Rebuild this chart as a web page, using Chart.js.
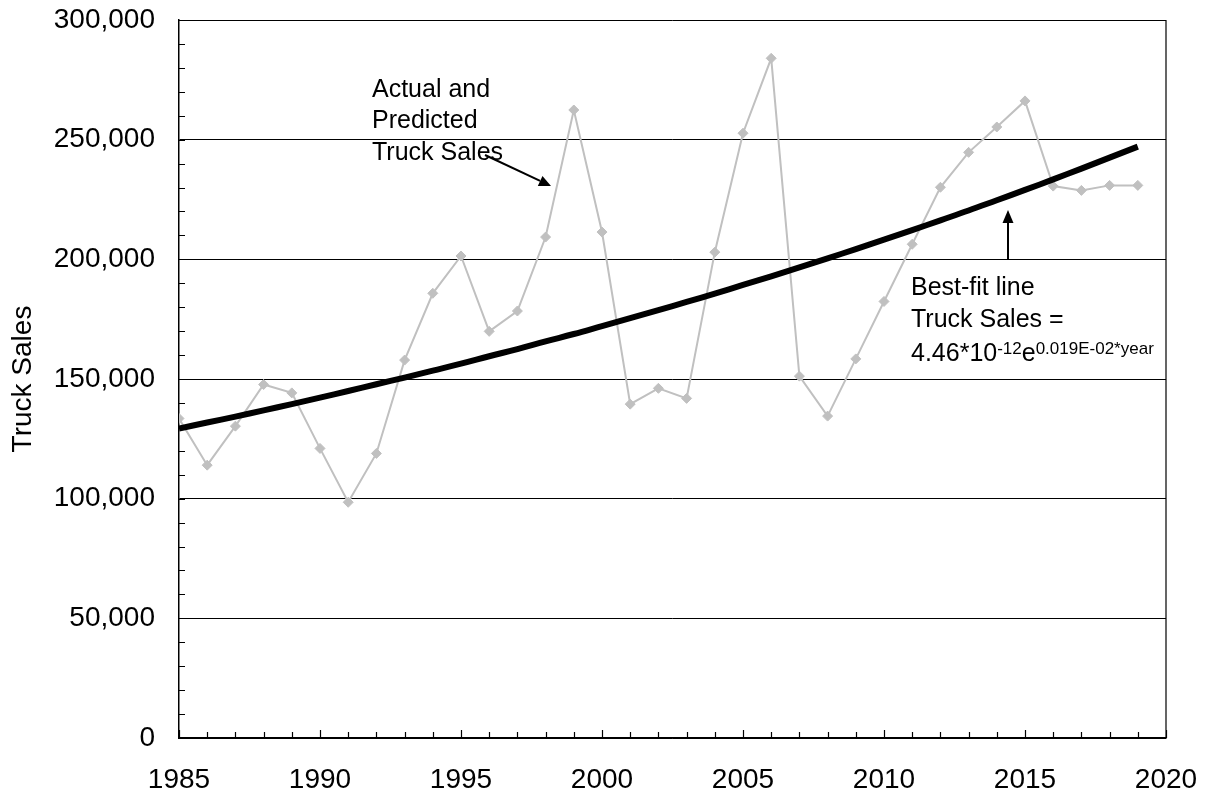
<!DOCTYPE html>
<html>
<head>
<meta charset="utf-8">
<script src="https://cdn.jsdelivr.net/npm/chart.js@4/dist/chart.umd.min.js"></script>
<style>
  html, body { margin: 0; padding: 0; background: #ffffff; }
  #wrap { width: 1206px; height: 796px; }
</style>
</head>
<body>
<div id="wrap"><canvas id="c" width="1206" height="796"></canvas></div>
<script>
// Yearly truck sales and the fitted exponential trend
const years = [1985, 1986, 1987, 1988, 1989, 1990, 1991, 1992, 1993, 1994,
               1995, 1996, 1997, 1998, 1999, 2000, 2001, 2002, 2003, 2004,
               2005, 2006, 2007, 2008, 2009, 2010, 2011, 2012, 2013, 2014,
               2015, 2016, 2017, 2018, 2019];

const actualSales = [133500, 114000, 130300, 147700, 144200, 121000, 98500, 118900, 157900, 185800,
                     201400, 169900, 178400, 209300, 262400, 211400, 139500, 146100, 141900, 203000,
                     252700, 284000, 151200, 134500, 158400, 182400, 206300, 230100, 244700, 255300,
                     266200, 230600, 228800, 230900, 230900];

const trendSales = [129300, 131800, 134300, 136900, 139500, 142200, 145000, 147800, 150600, 153500,
                    156400, 159500, 162500, 165700, 168800, 172100, 175400, 178800, 182200, 185700,
                    189300, 192900, 196600, 200400, 204300, 208200, 212200, 216300, 220400, 224700,
                    229000, 233400, 237900, 242500, 247100];

const yTickValues = [0, 50000, 100000, 150000, 200000, 250000, 300000];
const xTickYears = [1985, 1990, 1995, 2000, 2005, 2010, 2015, 2020];

const FONT = "'Liberation Sans', Arial, sans-serif";

function fixScalePadding(scale) {
  scale.paddingTop = 0;
  scale.paddingBottom = 0;
  scale.paddingLeft = 0;
  scale.paddingRight = 0;
}

// Small inner tick marks, right frame edge
const framePlugin = {
  id: 'frame',
  beforeDatasetsDraw(chart) {
    const ctx = chart.ctx;
    const { left, right, top, bottom } = chart.chartArea;
    const xs = chart.scales.x, ys = chart.scales.y;
    ctx.save();
    ctx.strokeStyle = '#000';
    ctx.lineWidth = 1.2;
    ctx.beginPath();
    for (let v = 0; v <= 300000; v += 10000) {
      const y = Math.round(ys.getPixelForValue(v)) + 0.5;
      ctx.moveTo(left, y);
      ctx.lineTo(left + 6, y);
    }
    for (let yr = 1985; yr <= 2020; yr++) {
      const x = Math.round(xs.getPixelForValue(yr)) + 0.5;
      const len = yr % 5 === 0 ? 8 : 6;
      ctx.moveTo(x, bottom);
      ctx.lineTo(x, bottom - len);
    }
    ctx.moveTo(right, top);
    ctx.lineTo(right, bottom);
    ctx.stroke();
    ctx.restore();
  }
};

function arrow(ctx, x1, y1, x2, y2, headLen, headHalf) {
  const ang = Math.atan2(y2 - y1, x2 - x1);
  const bx = x2 - headLen * Math.cos(ang);
  const by = y2 - headLen * Math.sin(ang);
  ctx.beginPath();
  ctx.moveTo(x1, y1);
  ctx.lineTo(bx, by);
  ctx.stroke();
  ctx.beginPath();
  ctx.moveTo(x2, y2);
  ctx.lineTo(bx + headHalf * Math.sin(ang), by - headHalf * Math.cos(ang));
  ctx.lineTo(bx - headHalf * Math.sin(ang), by + headHalf * Math.cos(ang));
  ctx.closePath();
  ctx.fill();
}

// Callout texts and arrows
const notesPlugin = {
  id: 'notes',
  afterDraw(chart) {
    const ctx = chart.ctx;
    ctx.save();
    ctx.fillStyle = '#000';
    ctx.strokeStyle = '#000';
    ctx.textBaseline = 'alphabetic';
    ctx.textAlign = 'left';
    ctx.font = '25px ' + FONT;
    ctx.fillText('Actual and', 372, 97);
    ctx.fillText('Predicted', 372, 128);
    ctx.fillText('Truck Sales', 372, 160);

    ctx.lineWidth = 2;
    arrow(ctx, 485, 155, 551, 186, 12, 5.5);
    arrow(ctx, 1008, 260, 1008, 210, 13, 5.5);

    ctx.fillText('Best-fit line', 911, 295);
    ctx.fillText('Truck Sales =', 911, 327);
    let x = 911;
    const base = 361;
    const supBase = 354;
    const parts = [
      ['4.46*10', false], ['-12', true], ['e', false], ['0.019E-02*year', true]
    ];
    for (const [t, sup] of parts) {
      ctx.font = (sup ? '17px ' : '25px ') + FONT;
      ctx.fillText(t, x, sup ? supBase : base);
      x += ctx.measureText(t).width;
    }
    ctx.restore();
  }
};

const ctx = document.getElementById('c').getContext('2d');
new Chart(ctx, {
  type: 'line',
  data: {
    datasets: [
      {
        label: 'Best-fit line',
        data: years.map((yr, i) => ({ x: yr, y: trendSales[i] })),
        borderColor: '#000000',
        borderWidth: 6,
        pointRadius: 0,
        tension: 0.4,
        fill: false
      },
      {
        label: 'Truck Sales',
        data: years.map((yr, i) => ({ x: yr, y: actualSales[i] })),
        borderColor: '#c0c0c0',
        borderWidth: 2,
        pointStyle: 'rectRot',
        pointRadius: 5,
        pointBackgroundColor: '#c0c0c0',
        pointBorderColor: '#c0c0c0',
        pointBorderWidth: 1,
        tension: 0,
        fill: false
      }
    ]
  },
  options: {
    responsive: false,
    devicePixelRatio: 1,
    animation: false,
    events: [],
    layout: { padding: { top: 20, right: 40, left: 0, bottom: 0 } },
    plugins: {
      legend: { display: false },
      tooltip: { enabled: false },
      title: { display: false }
    },
    scales: {
      x: {
        type: 'linear',
        min: 1985,
        max: 2020,
        afterBuildTicks(scale) {
          scale.ticks = xTickYears.map(v => ({ value: v }));
        },
        afterFit(scale) { scale.height = 58; fixScalePadding(scale); },
        grid: { display: false, drawTicks: false },
        border: { display: true, color: '#000', width: 1.5 },
        ticks: {
          color: '#000',
          padding: 25,
          maxRotation: 0,
          font: { family: FONT, size: 28 },
          callback: v => String(v)
        }
      },
      y: {
        type: 'linear',
        min: 0,
        max: 300000,
        afterBuildTicks(scale) {
          scale.ticks = yTickValues.map(v => ({ value: v }));
        },
        afterFit(scale) { scale.width = 179; fixScalePadding(scale); },
        grid: { display: true, color: '#000', lineWidth: 1, drawTicks: false },
        border: { display: true, color: '#000', width: 1.5 },
        ticks: {
          color: '#000',
          padding: 24,
          font: { family: FONT, size: 28 },
          callback: v => v.toLocaleString('en-US')
        },
        title: {
          display: true,
          text: 'Truck Sales',
          color: '#000',
          font: { family: FONT, size: 28 },
          padding: { top: 6, bottom: 0 }
        }
      }
    }
  },
  plugins: [framePlugin, notesPlugin]
});
</script>
</body>
</html>
